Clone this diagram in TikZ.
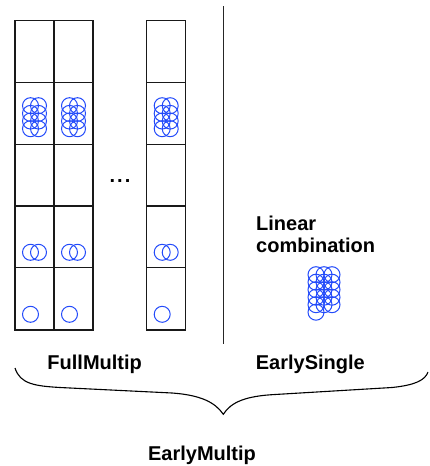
\documentclass[tikz,border=0pt]{standalone}
\usepackage{fontspec}
\setmainfont{Liberation Sans}
\definecolor{circblue}{RGB}{35,75,250}
\begin{document}
\begin{tikzpicture}[x=1pt,y=-1pt,
  cell/.style={draw=black!90,line width=1.15pt},
  blob/.style={draw=circblue,line width=1pt},
  lbl/.style={font=\fontsize{20}{22}\selectfont\bfseries,inner sep=0pt},
  sep/.style={draw=black!85,line width=1.3pt},
  bracepath/.style={draw=black,line width=1.1pt}]
\useasboundingbox (0,0) rectangle (429,466);
% stacks of cells
\foreach \L in {15,54,146.7}{
  \foreach \t/\b in {20.7/82.3,82.3/144.3,144.3/206,206/267.7,267.7/330}
    \draw[cell] (\L,\t) rectangle (\L+39,\b);
  \foreach \i in {0,1}
    \foreach \j in {0,...,3}
      \draw[blob] (\L+15.5+8*\i,105.7+7.67*\j) circle[radius=8pt];
  \draw[blob] (\L+15.5,252.3) circle[radius=8pt];
  \draw[blob] (\L+23.5,252.3) circle[radius=8pt];
  \draw[blob] (\L+15.5,314.3) circle[radius=8pt];
}
\node[lbl] (dots) at (120,181) {.\kern2pt.\kern2pt.};
% separator
\coordinate (septop) at (223.6,6);
\coordinate (sepbot) at (223.6,344);
\draw[sep] (septop) -- (sepbot);
% linear combination
\node[lbl,align=left,anchor=north west] (lin) at (256,216) {Linear\\combination};
\foreach \j in {0,...,5}
  \draw[blob] (316,274.7+7.5*\j) circle[radius=8pt];
\foreach \i in {1,2}
  \foreach \j in {0,...,4}
    \draw[blob] (316+8*\i,274.7+7.5*\j) circle[radius=8pt];
% labels
\node[lbl,anchor=base] (full) at (94.7,369.3) {FullMultip};
\node[lbl,anchor=base] (single) at (310.3,369.3) {EarlySingle};
\node[lbl,anchor=base] (multi) at (202,460.7) {EarlyMultip};
% brace
\coordinate (bl) at (15,368);
\coordinate (tip) at (223.3,414.3);
\coordinate (br) at (428,372);
\draw[bracepath] (bl) .. controls (20,384) and (35,386) .. (60,387.5)
  -- (172,393) .. controls (200,395) and (215,402) .. (tip)
  .. controls (231,402) and (246,396) .. (275,394.5)
  -- (392,387.5) .. controls (416,385) and (425,380) .. (br);
\end{tikzpicture}
\end{document}
